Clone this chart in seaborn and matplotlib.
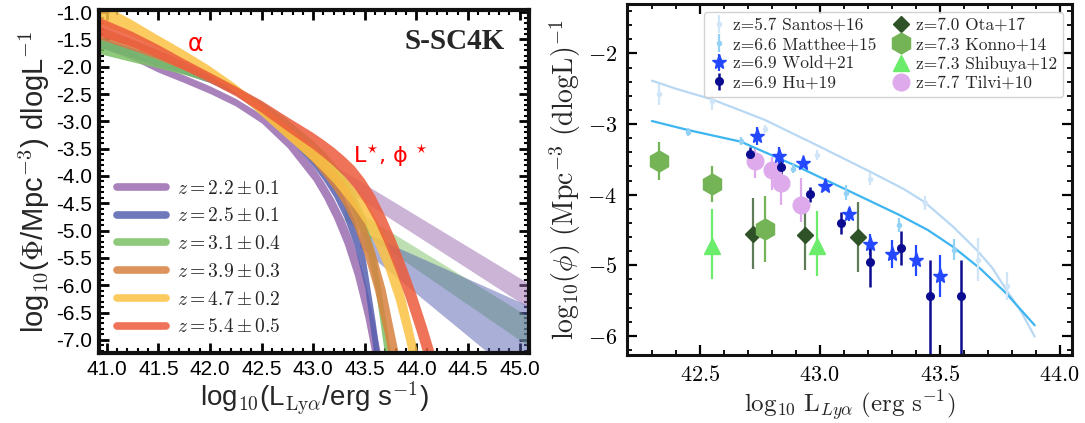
import numpy as np
import matplotlib
matplotlib.use('Agg')
import matplotlib.pyplot as plt
from matplotlib.lines import Line2D
from matplotlib.ticker import MultipleLocator, FuncFormatter, FormatStrFormatter
import seaborn as sns

sns.set_theme(style='ticks')
plt.rcParams['font.family'] = ['Liberation Sans', 'DejaVu Sans']
plt.rcParams['mathtext.fontset'] = 'cm'
plt.rcParams['axes.unicode_minus'] = False

# ---------------- left panel: S-SC4K Lya luminosity functions ----------------
lum_grid = [40.93, 41.25, 41.5, 41.75, 42.0, 42.25, 42.5, 42.75, 43.0, 43.1, 43.2,
            43.3, 43.4, 43.5, 43.6, 43.7, 43.8, 43.9, 44.0, 44.1, 44.2, 44.3]

z22_fit = [-1.55, -1.8, -2.03, -2.22, -2.42, -2.65, -2.95, -3.38, -3.95, -4.25, -4.6,
           -5.02, -5.55, -6.25, -7.15, -8.2]
z22_err = [0.08, 0.07, 0.07, 0.07, 0.07, 0.07, 0.08, 0.1, 0.13, 0.15, 0.18, 0.22, 0.27,
           0.33, 0.4, 0.5]
z25_fit = [-1.55, -1.74, -1.9, -2.06, -2.23, -2.45, -2.8, -3.2, -3.7, -3.94, -4.22,
           -4.58, -5.05, -5.75, -7.05, -8.6]
z25_err = [0.1, 0.09, 0.08, 0.07, 0.06, 0.06, 0.07, 0.09, 0.12, 0.14, 0.16, 0.19, 0.24,
           0.3, 0.4, 0.5]
z31_fit = [-1.62, -1.8, -1.93, -2.07, -2.22, -2.42, -2.7, -3.05, -3.47, -3.67, -3.9,
           -4.18, -4.52, -4.98, -5.75, -7.0, -8.3]
z31_err = [0.14, 0.11, 0.09, 0.07, 0.06, 0.06, 0.07, 0.09, 0.11, 0.13, 0.15, 0.17, 0.2,
           0.24, 0.3, 0.38, 0.45]
z39_fit = [-1.38, -1.6, -1.78, -1.98, -2.18, -2.42, -2.78, -3.18, -3.62, -3.83, -4.06,
           -4.33, -4.68, -5.15, -5.75, -6.5, -7.5, -8.5]
z39_err = [0.12, 0.1, 0.09, 0.08, 0.07, 0.07, 0.09, 0.11, 0.14, 0.16, 0.18, 0.21, 0.25,
           0.3, 0.36, 0.44, 0.52, 0.6]
z47_fit = [-1.02, -1.3, -1.55, -1.8, -2.07, -2.4, -2.8, -3.2, -3.6, -3.78, -3.97, -4.18,
           -4.4, -4.65, -5.0, -5.42, -5.95, -6.65, -7.5, -8.4]
z47_err = [0.2, 0.15, 0.12, 0.1, 0.08, 0.08, 0.1, 0.12, 0.14, 0.15, 0.16, 0.18, 0.2,
           0.22, 0.25, 0.28, 0.32, 0.36, 0.4, 0.44]
z54_fit = [-1.27, -1.5, -1.72, -1.96, -2.2, -2.45, -2.73, -3.05, -3.36, -3.5, -3.65,
           -3.82, -4.02, -4.28, -4.6, -5.0, -5.45, -5.95, -6.5, -7.1, -7.75, -8.45]
z54_err = [0.17, 0.14, 0.12, 0.1, 0.09, 0.09, 0.11, 0.13, 0.15, 0.16, 0.17, 0.18, 0.2,
           0.22, 0.24, 0.26, 0.28, 0.3, 0.33, 0.35, 0.37, 0.4]

# bright-end power-law components
z22_pl_x = [43.15, 45.09]
z22_pl_lo = [-4.05, -6.42]
z22_pl_hi = [-3.75, -5.97]
z25_pl_x = [43.45, 45.09]
z25_pl_lo = [-5.3, -7.85]
z25_pl_hi = [-5.0, -6.38]
z31_pl_x = [43.3, 45.09]
z31_pl_lo = [-4.8, -7.12]
z31_pl_hi = [-4.5, -6.58]

z_labels = [r'$z = 2.2 \pm 0.1$', r'$z = 2.5 \pm 0.1$', r'$z = 3.1 \pm 0.4$',
            r'$z = 3.9 \pm 0.3$', r'$z = 4.7 \pm 0.2$', r'$z = 5.4 \pm 0.5$']
z_colors = ['#9a6bb0', '#5560b0', '#7cc065', '#d8823f', '#fcc244', '#ec5b3c']

# ---------------- right panel: z ~ 6-8 Lya LFs ----------------
santos_x = [42.33, 42.55, 42.77, 42.99, 43.21, 43.44, 43.66, 43.78]
santos_y = [-2.58, -2.68, -3.07, -3.44, -3.78, -4.12, -4.92, -5.29]
santos_err = [0.15, 0.12, 0.06, 0.07, 0.08, 0.1, 0.3, 0.2]
santos_fit_x = [42.30, 42.40, 42.55, 42.77, 43.00, 43.21, 43.35, 43.435, 43.556, 43.656,
                43.72, 43.778, 43.84, 43.896]
santos_fit_y = [-2.386, -2.50, -2.65, -2.94, -3.32, -3.675, -3.92, -4.10, -4.455, -4.79,
                -5.04, -5.35, -5.66, -6.01]

matthee_x = [42.45, 42.67, 42.89, 43.11, 43.33, 43.56]
matthee_y = [-3.11, -3.24, -3.63, -3.97, -4.43, -4.78]
matthee_err = [0.06, 0.06, 0.06, 0.1, 0.1, 0.15]
matthee_fit_x = [42.30, 42.451, 42.671, 42.893, 43.114, 43.333, 43.45, 43.556, 43.67,
                 43.778, 43.896]
matthee_fit_y = [-2.957, -3.085, -3.25, -3.58, -3.935, -4.29, -4.50, -4.74, -5.05,
                 -5.40, -5.85]

wold_x = [42.74, 42.83, 42.93, 43.02, 43.12, 43.21, 43.30, 43.40, 43.50]
wold_y = [-3.17, -3.45, -3.55, -3.88, -4.28, -4.70, -4.84, -4.93, -5.15]
wold_err = [0.13, 0.12, 0.05, 0.05, 0.09, 0.15, 0.2, 0.22, 0.3]

hu_x = [42.71, 42.84, 42.96, 43.09, 43.21, 43.34, 43.46, 43.59]
hu_y = [-3.43, -3.61, -3.99, -4.40, -4.96, -4.75, -5.44, -5.44]
hu_err_lo = [0.06, 0.1, 0.12, 0.15, 0.35, 0.24, 0.9, 0.9]
hu_err_hi = [0.1, 0.1, 0.1, 0.15, 0.25, 0.23, 0.51, 0.51]

ota_x = [42.72, 42.94, 43.16]
ota_y = [-4.55, -4.57, -4.60]
ota_err = [0.5, 0.49, 0.49]

konno_x = [42.33, 42.55, 42.77]
konno_y = [-3.52, -3.85, -4.49]
konno_err = [0.27, 0.25, 0.47]

shibuya_x = [42.55, 42.99]
shibuya_y = [-4.73, -4.73]
shibuya_err_lo = [0.46, 0.42]
shibuya_err_hi = [0.52, 0.5]

tilvi_x = [42.73, 42.80, 42.84, 42.92]
tilvi_y = [-3.53, -3.65, -3.83, -4.15]
tilvi_err_lo = [0.24, 0.28, 0.31, 0.24]
tilvi_err_hi = [0.17, 0.19, 0.18, 0.38]

fig = plt.figure(figsize=(10.85, 4.23), dpi=100)
ax1 = fig.add_axes([0.0912, 0.1662, 0.3963, 0.8102])
ax2 = fig.add_axes([0.5776, 0.1608, 0.4101, 0.8298])

# --- left: power-law tails underneath, Schechter bands on top ---
for px, plo, phi, col in [(z22_pl_x, z22_pl_lo, z22_pl_hi, z_colors[0]),
                          (z31_pl_x, z31_pl_lo, z31_pl_hi, z_colors[2]),
                          (z25_pl_x, z25_pl_lo, z25_pl_hi, z_colors[1])]:
    ax1.fill_between(px, plo, phi, color=col, alpha=0.5, lw=0)

band_handles = []
for lab, fit, err, col in zip(z_labels,
                              [z22_fit, z25_fit, z31_fit, z39_fit, z47_fit, z54_fit],
                              [z22_err, z25_err, z31_err, z39_err, z47_err, z54_err],
                              z_colors):
    fit = np.array(fit)
    err = np.array(err)
    x = lum_grid[:len(fit)]
    ax1.fill_between(x, fit - err, fit + err, color=col, alpha=0.85, lw=0)
    band_handles.append(Line2D([], [], color=col, lw=5.5, alpha=0.85, label=lab))

ax1.text(41.86, -1.58, 'α', color='red', fontsize=17, ha='center', va='center',
         family='DejaVu Sans')
ax1.text(43.39, -3.63, 'L$^{\\star}$, ϕ $^{\\star}$', color='red', fontsize=16,
         ha='left', va='center', family='DejaVu Sans')
ax1.text(44.86, -1.53, 'S-SC4K', fontsize=21, fontweight='bold', ha='right',
         va='center', family='Liberation Serif')

ax1.legend(handles=band_handles, loc='lower left', bbox_to_anchor=(0.025, 0.025),
           frameon=False, fontsize=14, handlelength=2.5, handletextpad=0.55,
           labelspacing=0.5, borderaxespad=0)

ax1.set_xlim(40.925, 45.09)
ax1.set_ylim(-7.236, -0.96)
ax1.xaxis.set_major_locator(MultipleLocator(0.5))
ax1.xaxis.set_minor_locator(MultipleLocator(0.1))
ax1.yaxis.set_major_locator(MultipleLocator(0.5))
ax1.yaxis.set_minor_locator(MultipleLocator(0.1))
ax1.xaxis.set_major_formatter(FormatStrFormatter('%.1f'))
ax1.yaxis.set_major_formatter(FormatStrFormatter('%.1f'))
ax1.tick_params(which='both', direction='in', top=True, right=True, colors='black',
                labelsize=15)
ax1.tick_params(which='major', length=7, width=2, pad=5)
ax1.tick_params(which='minor', length=3.5, width=1.5)
for s in ax1.spines.values():
    s.set_linewidth(3)
    s.set_color('#111111')
ax1.set_xlabel('log$_{10}$(L$_{\\rm Ly\\alpha}$/erg s$^{-1}$)', fontsize=20, labelpad=1)
ax1.set_ylabel('log$_{10}$($\\Phi$/Mpc$^{-3}$) dlogL$^{-1}$', fontsize=21, labelpad=3)

# --- right: fits and data points ---
sns.lineplot(x=santos_fit_x, y=santos_fit_y, ax=ax2, color='#b9d8f3', lw=1.6,
             legend=False)
sns.lineplot(x=matthee_fit_x, y=matthee_fit_y, ax=ax2, color='#3db5f0', lw=1.6,
             legend=False)

h_santos = ax2.errorbar(santos_x, santos_y, yerr=santos_err, fmt='o', ms=3,
                        color='#d0e6f8', elinewidth=1.6, capsize=0)
h_matthee = ax2.errorbar(matthee_x, matthee_y, yerr=matthee_err, fmt='o', ms=3,
                         color='#93d2f4', elinewidth=1.6, capsize=0)
h_wold = ax2.errorbar(wold_x, wold_y, yerr=wold_err, fmt='*', ms=11,
                      color='#2448ff', elinewidth=1.6, capsize=0)
h_hu = ax2.errorbar(hu_x, hu_y, yerr=[hu_err_lo, hu_err_hi], fmt='o', ms=5.5,
                    color='#0c0c90', elinewidth=1.8, capsize=0)
ax2.errorbar(ota_x, ota_y, yerr=ota_err, fmt='none', ecolor='#5f7c58',
             elinewidth=1.6, capsize=0)
ax2.plot(ota_x, ota_y, 'D', ms=8, color='#2f5229', ls='none')
ax2.errorbar(konno_x, konno_y, yerr=konno_err, fmt='none', ecolor='#74b457',
             elinewidth=1.6, capsize=0)
ax2.plot(konno_x, konno_y, 'h', ms=15, color='#74b457', ls='none')
ax2.errorbar(shibuya_x, shibuya_y, yerr=[shibuya_err_lo, shibuya_err_hi], fmt='none',
             ecolor='#6bec6b', elinewidth=1.6, capsize=0)
ax2.plot(shibuya_x, shibuya_y, '^', ms=12, color='#6bec6b', ls='none')
ax2.errorbar(tilvi_x, tilvi_y, yerr=[tilvi_err_lo, tilvi_err_hi], fmt='none',
             ecolor='#deaaec', elinewidth=1.6, capsize=0)
ax2.plot(tilvi_x, tilvi_y, 'o', ms=12, color='#deaaec', ls='none')

leg_handles = [h_santos, h_matthee, h_wold, h_hu,
               Line2D([], [], marker='D', ms=8, color='#2f5229', ls='none'),
               Line2D([], [], marker='h', ms=15, color='#74b457', ls='none'),
               Line2D([], [], marker='^', ms=12, color='#6bec6b', ls='none'),
               Line2D([], [], marker='o', ms=12, color='#deaaec', ls='none')]
leg_labels = ['z=5.7 Santos+16', 'z=6.6 Matthee+15', 'z=6.9 Wold+21', 'z=6.9 Hu+19',
              'z=7.0 Ota+17', 'z=7.3 Konno+14', 'z=7.3 Shibuya+12', 'z=7.7 Tilvi+10']
ax2.legend(leg_handles, leg_labels, ncol=2, loc='upper right',
           bbox_to_anchor=(0.9805, 0.978), borderaxespad=0,
           prop={'family': 'cmr10', 'size': 12.5}, handlelength=1.0, handletextpad=0.35,
           columnspacing=0.9, labelspacing=0.22, borderpad=0.35, fancybox=True,
           framealpha=0.85, edgecolor='#cccccc')

ax2.set_xlim(42.195, 44.05)
ax2.set_ylim(-6.27, -1.30)
ax2.xaxis.set_major_locator(MultipleLocator(0.5))
ax2.xaxis.set_minor_locator(MultipleLocator(0.1))
ax2.yaxis.set_major_locator(MultipleLocator(1))
ax2.yaxis.set_minor_locator(MultipleLocator(0.2))
ax2.xaxis.set_major_formatter(FuncFormatter(lambda v, p: f'${v:.1f}$'))
ax2.yaxis.set_major_formatter(FuncFormatter(lambda v, p: f'${v:.0f}$'))
ax2.tick_params(which='both', direction='in', top=True, right=True, colors='black',
                labelsize=16)
ax2.tick_params(which='major', length=7, width=1.6, pad=7)
ax2.tick_params(which='minor', length=3.5, width=1.3)
for s in ax2.spines.values():
    s.set_linewidth(2.2)
    s.set_color('#111111')
ax2.set_xlabel(r'$\mathrm{log}_{10}\ \mathrm{L}_{Ly\alpha}\ (\mathrm{erg\ s}^{-1})$',
               fontsize=18, labelpad=2)
ax2.set_ylabel(r'$\mathrm{log}_{10}(\phi)\ (\mathrm{Mpc}^{-3}\ (\mathrm{dlogL})^{-1}$',
               fontsize=20, labelpad=3)

fig.savefig('out.png', dpi=100)
